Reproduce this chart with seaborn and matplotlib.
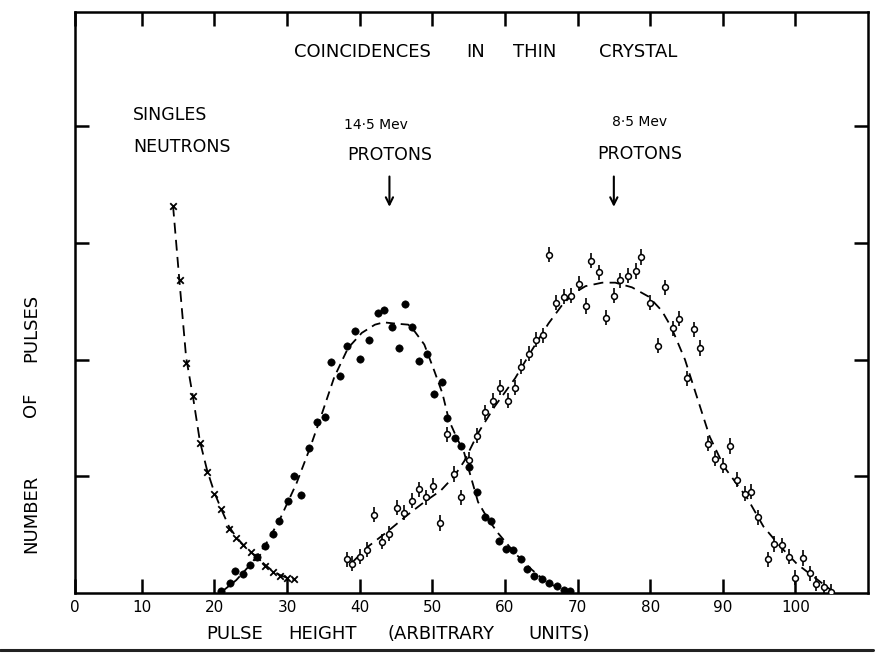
import matplotlib
matplotlib.use("Agg")
import matplotlib.pyplot as plt
import seaborn as sns
from matplotlib.lines import Line2D

# ---- singles neutrons (crosses) ----
neutron_x = [14.3, 15.2, 16.1, 17.1, 18.0, 19.0, 19.9, 20.9, 22.0, 23.0, 24.0, 25.0,
             25.9, 26.9, 28.0, 29.0, 30.0, 30.9]
neutron_y = [3.32, 2.68, 1.97, 1.69, 1.29, 1.04, 0.85, 0.72, 0.55, 0.47, 0.41, 0.35,
             0.31, 0.23, 0.18, 0.15, 0.13, 0.12]
neutron_fit_x = [14.3, 15.2, 16.1, 17.1, 18.0, 19.0, 20.0, 21.0, 22.0, 23.0, 24.0, 25.0,
                 26.0, 27.0, 28.0, 29.0, 30.0, 31.0]
neutron_fit_y = [3.32, 2.66, 2.02, 1.66, 1.30, 1.05, 0.86, 0.71, 0.57, 0.48, 0.41, 0.35,
                 0.30, 0.24, 0.19, 0.155, 0.13, 0.12]

# ---- 14.5 MeV protons (filled dots) ----
p14_x = [20.9, 22.1, 22.9, 23.9, 24.9, 25.9, 26.9, 28.0, 28.9, 30.1, 31.0, 31.9, 33.0,
         34.1, 35.2, 36.1, 37.3, 38.3, 39.4, 40.1, 41.3, 42.5, 43.3, 44.5, 45.4, 46.3,
         47.2, 48.2, 49.3, 50.2, 51.3, 52.0, 53.1, 54.0, 55.0, 56.2, 57.2, 58.1, 59.2,
         60.1, 61.1, 62.2, 63.1, 64.0, 65.1, 66.1, 67.2, 68.1, 69.0]
p14_y = [0.02, 0.09, 0.19, 0.16, 0.24, 0.31, 0.40, 0.51, 0.62, 0.79, 1.00, 0.84, 1.24,
         1.47, 1.51, 1.98, 1.86, 2.12, 2.25, 2.01, 2.17, 2.40, 2.43, 2.28, 2.10, 2.48,
         2.28, 1.99, 2.05, 1.71, 1.81, 1.50, 1.33, 1.26, 1.08, 0.87, 0.65, 0.62, 0.45,
         0.38, 0.37, 0.29, 0.21, 0.15, 0.12, 0.09, 0.06, 0.03, 0.02]
p14_fit_x = [21.0, 23.0, 24.9, 27.0, 29.0, 31.3, 33.2, 34.6, 36.5, 38.4, 40.3, 42.1, 43.3,
             44.8, 46.7, 47.6, 48.9, 50.3, 51.4, 52.3, 53.3, 54.4, 55.2, 56.3, 57.7,
             59.1, 61.4, 63.7, 66.0, 68.3, 69.2]
p14_fit_y = [0.01, 0.11, 0.24, 0.41, 0.63, 0.94, 1.25, 1.50, 1.85, 2.10, 2.23, 2.30, 2.32,
             2.31, 2.30, 2.24, 2.13, 1.90, 1.71, 1.48, 1.34, 1.20, 1.02, 0.78, 0.63,
             0.51, 0.34, 0.20, 0.08, 0.03, 0.01]

# ---- 8.5 MeV protons (open circles with bars) ----
p8_x = [38.2, 39.0, 40.1, 41.0, 42.0, 43.1, 44.1, 45.2, 46.1, 47.2, 48.2, 49.1, 50.1,
        51.1, 52.0, 53.0, 54.0, 55.1, 56.2, 57.3, 58.3, 59.3, 60.4, 61.4, 62.2, 63.3,
        64.3, 65.2, 66.1, 67.0, 68.1, 69.1, 70.2, 71.2, 71.9, 72.9, 73.9, 75.0, 75.8,
        77.0, 78.0, 78.8, 80.0, 81.1, 82.0, 83.1, 84.0, 85.1, 86.1, 86.9, 88.0, 88.9,
        90.0, 91.0, 92.0, 93.0, 93.9, 94.9, 96.2, 97.1, 98.1, 99.1, 100.0, 101.0, 102.0,
        102.9, 104.0, 104.9]
p8_y = [0.29, 0.25, 0.31, 0.37, 0.67, 0.44, 0.51, 0.73, 0.69, 0.79, 0.89, 0.82, 0.92,
        0.60, 1.36, 1.02, 0.82, 1.14, 1.35, 1.55, 1.65, 1.76, 1.65, 1.76, 1.94, 2.05,
        2.17, 2.21, 2.90, 2.49, 2.54, 2.55, 2.65, 2.46, 2.85, 2.75, 2.36, 2.55, 2.68,
        2.72, 2.76, 2.88, 2.49, 2.12, 2.62, 2.27, 2.35, 1.84, 2.26, 2.10, 1.28, 1.15,
        1.09, 1.26, 0.97, 0.85, 0.87, 0.65, 0.29, 0.42, 0.41, 0.31, 0.13, 0.30, 0.17,
        0.08, 0.05, 0.01]
p8_fit_x = [39.1, 41.2, 43.9, 46.6, 48.9, 51.2, 53.0, 54.4, 56.3, 58.6, 61.4, 63.7, 66.0,
            67.9, 69.5, 71.1, 73.4, 75.2, 77.5, 79.8, 81.6, 82.9, 84.8, 86.6, 88.2,
            90.2, 93.4, 95.6, 97.9, 100.2, 102.5, 104.8]
p8_fit_y = [0.27, 0.40, 0.53, 0.67, 0.78, 0.88, 1.00, 1.13, 1.37, 1.60, 1.84, 2.08, 2.31,
            2.47, 2.57, 2.63, 2.66, 2.66, 2.62, 2.54, 2.42, 2.28, 2.00, 1.65, 1.34,
            1.08, 0.81, 0.57, 0.40, 0.25, 0.14, 0.03]

x_ticks = [0.8, 10, 20, 30, 40, 50, 60, 70, 80, 90, 100]
x_tick_labels = ["0", "10", "20", "30", "40", "50", "60", "70", "80", "90", "100"]

sns.set_style("ticks")
plt.rcParams["font.family"] = ["DejaVu Sans"]

W, H = 881, 656
fig = plt.figure(figsize=(W / 100, H / 100), dpi=100)
ax = fig.add_axes([75 / W, 1 - 593 / H, (868 - 75) / W, (593 - 12) / H])

def fx(px):
    return px / W

def fy(py):
    return 1 - py / H

# fitted curves
sns.lineplot(x=neutron_fit_x, y=neutron_fit_y, ax=ax, color="black", lw=1.3,
             linestyle=(0, (6, 3.5)), sort=False, estimator=None)
sns.lineplot(x=p14_fit_x, y=p14_fit_y, ax=ax, color="black", lw=1.3,
             linestyle=(0, (5, 3.2)), sort=False, estimator=None)
sns.lineplot(x=p8_fit_x, y=p8_fit_y, ax=ax, color="black", lw=1.3,
             linestyle=(0, (5.5, 3.5)), sort=False, estimator=None)

# measured points
sns.scatterplot(x=neutron_x, y=neutron_y, ax=ax, marker="x", color="black",
                s=22, linewidth=1.3, zorder=4)
sns.scatterplot(x=p14_x, y=p14_y, ax=ax, marker="o", color="black",
                edgecolor="black", s=28, zorder=4)
ax.errorbar(p8_x, p8_y, yerr=0.065, fmt="o", ms=4.2, mfc="white", mec="black",
            mew=1.1, ecolor="black", elinewidth=1.2, capsize=0, zorder=5)

ax.set_xlim(0.8, 110)
ax.set_ylim(0, 4.98)
ax.set_xticks(x_ticks)
ax.set_xticklabels(x_tick_labels)
ax.set_yticks([1, 2, 3, 4])
ax.set_yticklabels([])
ax.tick_params(axis="both", direction="in", top=True, right=True, length=10,
               width=1.8, color="black")
ax.tick_params(axis="x", labelsize=11, pad=5, labelcolor="black")
for s in ax.spines.values():
    s.set_linewidth(1.8)
    s.set_color("black")
ax.set_xlabel("")
ax.set_ylabel("")

# annotations
txt = dict(color="black", ha="center", va="center")
for word, px in [("COINCIDENCES", 362), ("IN", 476), ("THIN", 535), ("CRYSTAL", 638)]:
    fig.text(fx(px), fy(52), word, fontsize=13, **txt)
fig.text(fx(170), fy(115), "SINGLES", fontsize=12.5, **txt)
fig.text(fx(182), fy(147), "NEUTRONS", fontsize=12.5, **txt)
fig.text(fx(376), fy(125), "14·5 Mev", fontsize=10, **txt)
fig.text(fx(390), fy(155), "PROTONS", fontsize=12.5, **txt)
fig.text(fx(640), fy(122), "8·5 Mev", fontsize=10, **txt)
fig.text(fx(640), fy(154), "PROTONS", fontsize=12.5, **txt)

for ax_x in (44.1, 75.0):
    ax.annotate("", xy=(ax_x, 3.31), xytext=(ax_x, 3.57),
                arrowprops=dict(arrowstyle="->", lw=1.5, color="black",
                                mutation_scale=13, shrinkA=0, shrinkB=0))

for word, px in [("PULSE", 235), ("HEIGHT", 322), ("(ARBITRARY", 441), ("UNITS)", 559)]:
    fig.text(fx(px), fy(634), word, fontsize=13, **txt)
for word, py in [("NUMBER", 514), ("OF", 405), ("PULSES", 328)]:
    fig.text(fx(31), fy(py), word, fontsize=13, rotation=90, **txt)

# frame rule along the bottom of the page
fig.add_artist(Line2D([0, fx(873)], [fy(650), fy(650)], color="#222222", lw=2.2))

fig.savefig("out.png", dpi=100)
